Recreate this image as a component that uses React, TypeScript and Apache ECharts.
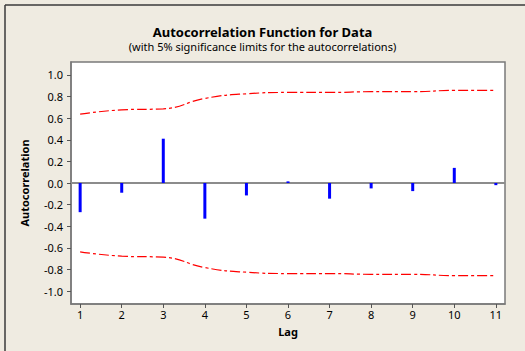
import React, { useEffect, useRef } from "react";
import * as echarts from "echarts";

const lags = [1, 2, 3, 4, 5, 6, 7, 8, 9, 10, 11];
const acfValues = [-0.27, -0.09, 0.41, -0.33, -0.115, 0.015, -0.145, -0.05, -0.075, 0.14, -0.02];
const upperLimit = [0.637, 0.677, 0.687, 0.783, 0.826, 0.838, 0.838, 0.845, 0.845, 0.857, 0.857];
const lowerLimit = upperLimit.map((v) => -v);
const yTicks = [-1.0, -0.8, -0.6, -0.4, -0.2, 0.0, 0.2, 0.4, 0.6, 0.8, 1.0];

const FONT = "Noto Sans";

export default function App() {
  const ref = useRef<HTMLDivElement>(null);
  useEffect(() => {
    if (!ref.current) return;
    const chart = echarts.init(ref.current, undefined, { renderer: "svg" });
    const dash = [10, 3, 3, 3];
    chart.setOption({
      animation: false,
      backgroundColor: "#EFEBE1",
      title: {
        text: "Autocorrelation Function for Data",
        subtext: "(with 5% significance limits for the autocorrelations)",
        left: "center",
        top: 20,
        itemGap: 3,
        textStyle: { fontFamily: FONT, fontWeight: "bold", fontSize: 13, color: "#000" },
        subtextStyle: { fontFamily: FONT, fontSize: 11, color: "#000" },
      },
      graphic: [
        { type: "line", shape: { x1: 5, y1: 5, x2: 525, y2: 5 }, style: { stroke: "#3a3a3a", lineWidth: 1.5 } },
        { type: "line", shape: { x1: 5, y1: 5, x2: 5, y2: 351 }, style: { stroke: "#3a3a3a", lineWidth: 1.5 } },
      ],
      grid: {
        left: 71,
        right: 20,
        top: 62,
        bottom: 47,
        show: true,
        backgroundColor: "#ffffff",
        borderColor: "#7a7a7a",
        borderWidth: 1.5,
      },
      xAxis: {
        type: "value",
        min: 0.78,
        max: 11.22,
        name: "Lag",
        nameLocation: "middle",
        nameGap: 22,
        nameTextStyle: { fontFamily: FONT, fontWeight: "bold", fontSize: 11, color: "#000" },
        axisLine: { show: true, onZero: false, lineStyle: { color: "#7a7a7a", width: 1.5 } },
        axisTick: { show: true, length: 4, customValues: lags, lineStyle: { color: "#555" } },
        axisLabel: {
          customValues: lags,
          margin: 5,
          fontFamily: FONT,
          fontSize: 11,
          color: "#000",
          formatter: (v: number) => String(v),
        },
        splitLine: { show: false },
      },
      yAxis: {
        type: "value",
        min: -1.12,
        max: 1.12,
        name: "Autocorrelation",
        nameLocation: "middle",
        nameRotate: 90,
        nameGap: 41,
        nameTextStyle: { fontFamily: FONT, fontWeight: "bold", fontSize: 11, color: "#000" },
        axisLine: { show: true, lineStyle: { color: "#7a7a7a", width: 1.5 } },
        axisTick: { show: true, length: 4, customValues: yTicks, lineStyle: { color: "#555" } },
        axisLabel: {
          customValues: yTicks,
          margin: 8,
          fontFamily: FONT,
          fontSize: 11,
          color: "#000",
          formatter: (v: number) => v.toFixed(1),
        },
        splitLine: { show: false },
      },
      series: [
        {
          type: "line",
          data: lags.map((l, i) => [l, upperLimit[i]]),
          smooth: 0.5,
          showSymbol: false,
          lineStyle: { color: "#ff0000", width: 1.2, type: dash },
          z: 3,
        },
        {
          type: "line",
          data: lags.map((l, i) => [l, lowerLimit[i]]),
          smooth: 0.5,
          showSymbol: false,
          lineStyle: { color: "#ff0000", width: 1.2, type: dash },
          z: 3,
        },
        {
          type: "bar",
          data: lags.map((l, i) => [l, acfValues[i]]),
          barWidth: 3,
          itemStyle: { color: "#0000ff" },
          z: 4,
          markLine: {
            silent: true,
            symbol: "none",
            label: { show: false },
            lineStyle: { color: "#8c8c8c", width: 2, type: "solid" },
            data: [{ yAxis: 0 }],
            z: 2,
          },
        },
      ],
    });
    return () => chart.dispose();
  }, []);
  return (
    <div
      ref={ref}
      style={{ position: "fixed", left: 0, top: 0, width: 525, height: 351 }}
    />
  );
}
